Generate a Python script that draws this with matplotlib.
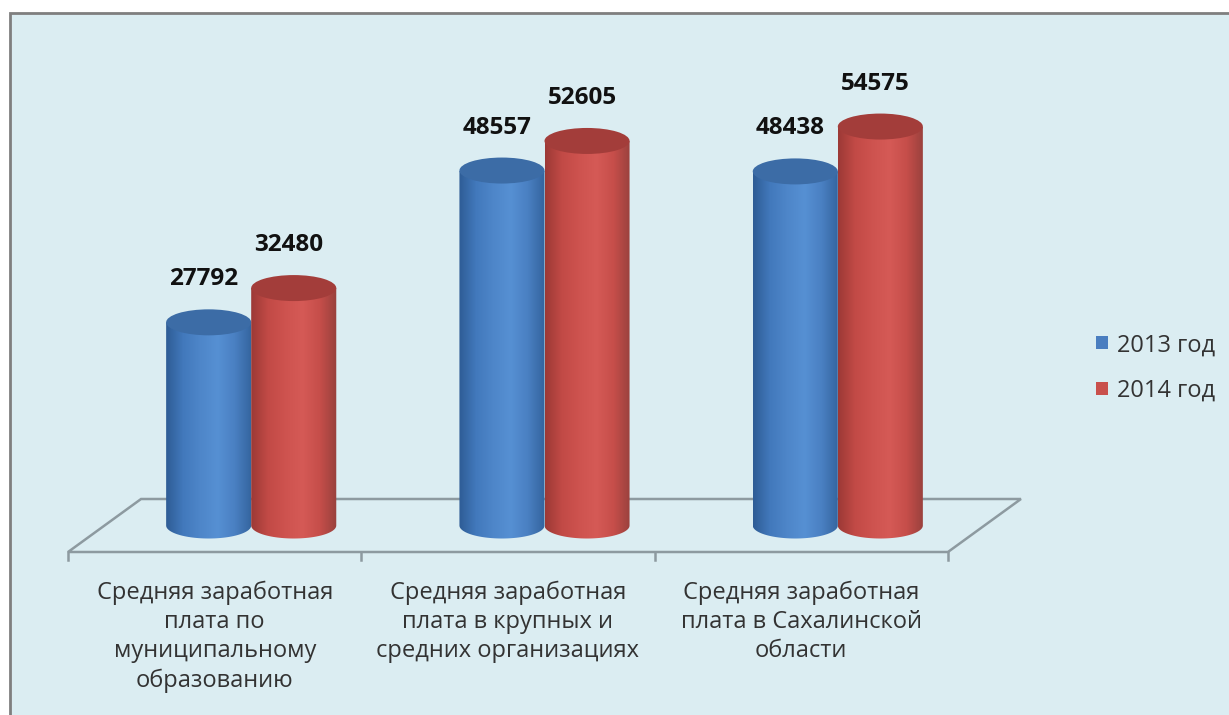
import numpy as np
import matplotlib.pyplot as plt
from matplotlib.patches import Ellipse, Rectangle, Polygon, Patch
from matplotlib.colors import LinearSegmentedColormap

categories = [
    "Средняя заработная\nплата по\nмуниципальному\nобразованию",
    "Средняя заработная\nплата в крупных и\nсредних организациях",
    "Средняя заработная\nплата в Сахалинской\nобласти",
]
series_names = ["2013 год", "2014 год"]
values_2013 = [27792, 48557, 48438]
values_2014 = [32480, 52605, 54575]

bg = "#DBEDF2"
blue_cmap = LinearSegmentedColormap.from_list(
    "b", ["#2E5C95", "#4279BC", "#4E86C9", "#5690D3", "#4A80C2", "#34649E"])
red_cmap = LinearSegmentedColormap.from_list(
    "r", ["#9C3936", "#C24A46", "#CE534F", "#D55A56", "#C64E4A", "#98413D"])
top_colors = ["#3C6CA6", "#A33D3A"]
legend_colors = ["#4A7EC0", "#C9504C"]

# pixel scale of the value axis and category spacing
k = 0.00731
step = 293.3
W, H = 1229, 715
base_px = 525.5

fig = plt.figure(figsize=(W / 100, H / 100), dpi=100)
fig.patch.set_facecolor("white")
fig.patches.append(Rectangle((10 / W, -0.1), 1.2, 1.1 - 13 / H, transform=fig.transFigure,
                             facecolor=bg, edgecolor="#7F7F7F", linewidth=2, zorder=-5))

ax = fig.add_axes([0, 0, 1, 1])
ax.set_facecolor("none")
ax.axis("off")

ew = 0.29                    # cylinder width (category units)
eh = 13 / k                  # half height of ellipse (value units)
ddx = 73 / step              # floor depth in x
ddy = 53 / k                 # floor depth in y
grad = np.linspace(0, 1, 256).reshape(1, -1)

# floor
ncat = len(categories)
fx0, fx1 = -0.5, ncat - 0.5
fy = -ddy / 2
floor = Polygon([(fx0, fy), (fx1, fy), (fx1 + ddx, fy + ddy), (fx0 + ddx, fy + ddy)],
                closed=True, facecolor="none", edgecolor="#8D9AA0", linewidth=1.8, zorder=1)
ax.add_patch(floor)
for t in np.arange(fx0, fx1 + 0.01, 1.0):
    ax.plot([t, t], [fy, fy - 8 / k], color="#8D9AA0", linewidth=1.8, zorder=1)


def cylinder(xc, val, cmap, top, z):
    left, right = xc - ew / 2, xc + ew / 2
    th = np.linspace(0, -np.pi, 60)
    pts = [(left, val), (right, val)] + [(xc + ew / 2 * np.cos(a), eh * np.sin(a)) for a in th]
    body = Polygon(pts, closed=True, facecolor="none", edgecolor="none", zorder=z)
    ax.add_patch(body)
    im = ax.imshow(grad, cmap=cmap, aspect="auto", extent=[left, right, -eh, val],
                   zorder=z, interpolation="bilinear")
    im.set_clip_path(body)
    ax.add_patch(Ellipse((xc, val), ew, 2 * eh, facecolor=top, edgecolor="none", zorder=z + 0.1))


for s, (vals, cmap) in enumerate([(values_2013, blue_cmap), (values_2014, red_cmap)]):
    for i, v in enumerate(vals):
        xc = i + (s - 0.5) * ew + ddx / 2
        cylinder(xc, v, cmap, top_colors[s], 2 + s)
        ax.annotate(f"{v}", (xc, v + eh), xytext=(-5, 30), textcoords="offset pixels",
                    ha="center", va="center", fontsize=17.5, fontweight="bold",
                    family="Open Sans", color="#111111", zorder=5)

for i, lab in enumerate(categories):
    ax.annotate(lab, (i, fy), xytext=(0, -29), textcoords="offset pixels",
                ha="center", va="top", fontsize=17, family="Open Sans",
                color="#333333", linespacing=1.28)

handles = [Patch(facecolor=c, edgecolor="none") for c in legend_colors]
ax.legend(handles, series_names, loc="center left", bbox_to_anchor=(1096 / W, 1 - 368 / H),
          bbox_transform=fig.transFigure, frameon=False, borderpad=0, borderaxespad=0,
          handlelength=0.5, handleheight=0.5, handletextpad=0.4, labelspacing=0.92,
          prop={"family": "Open Sans", "size": 17}, labelcolor="#333333")

ax.set_xlim(-214.7 / step, (W - 214.7) / step)
ax.set_ylim(-(H - base_px) / k, base_px / k)

fig.savefig("out.png", dpi=100)
